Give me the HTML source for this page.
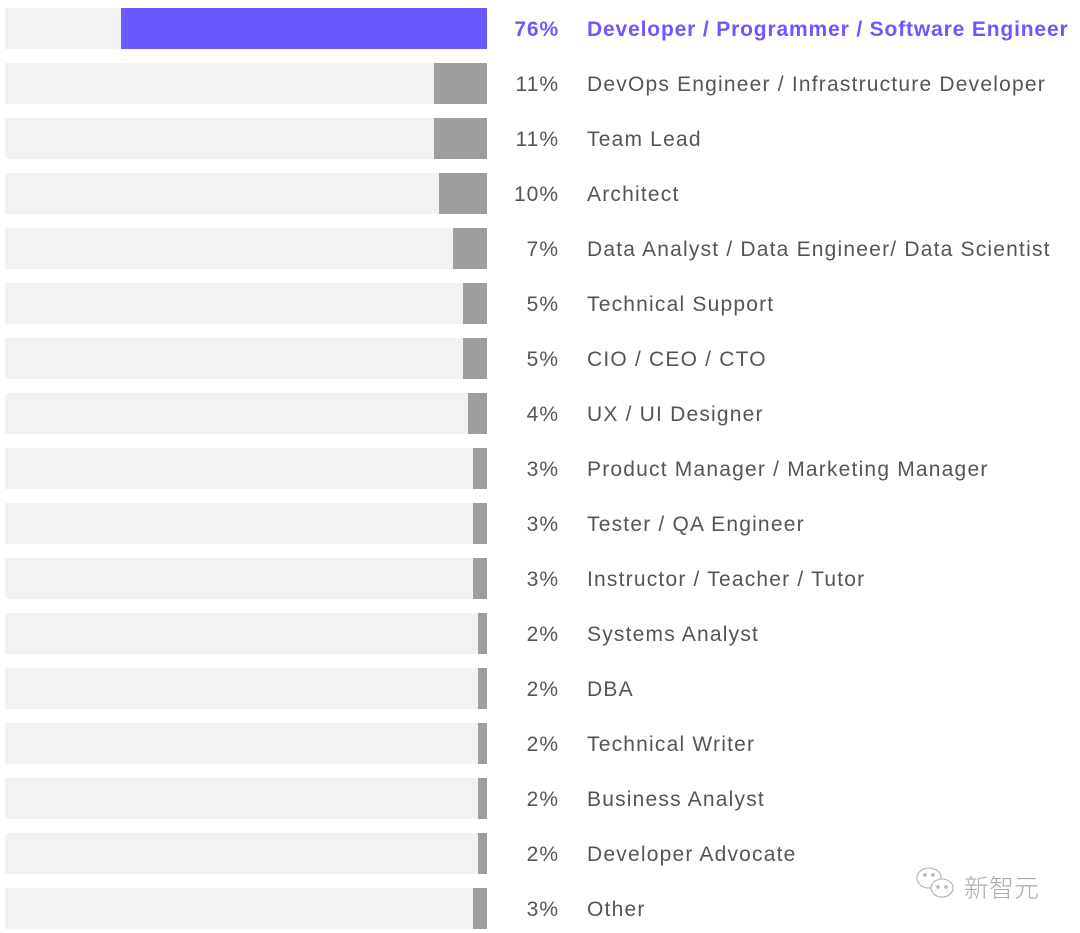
<!DOCTYPE html>
<html><head><meta charset="utf-8"><style>
body{margin:0;width:1080px;height:933px;background:#fff;position:relative;overflow:hidden;font-family:"Liberation Sans","Noto Sans CJK SC",sans-serif;}
.r{position:absolute;left:0;height:41px;width:1080px}
.bg{position:absolute;left:5px;width:482px;top:0;height:41px;background:#f2f2f2}
.f{position:absolute;right:593px;top:0;height:41px;background:#9e9e9e}
.p{position:absolute;right:521px;top:1px;line-height:41px;font-size:21px;color:#555;letter-spacing:1px}
.l{position:absolute;left:587px;top:1px;line-height:41px;font-size:21px;color:#555;white-space:nowrap;letter-spacing:1.2px}
.hi .f{background:#6b58ff}.hi .p,.hi .l{color:#6b58ff;font-weight:bold;letter-spacing:0.85px}
</style></head><body>
<div class="r hi" style="top:8px"><div class="bg"></div><div class="f" style="width:366px"></div><div class="p">76%</div><div class="l">Developer / Programmer / Software Engineer</div></div>
<div class="r" style="top:63px"><div class="bg"></div><div class="f" style="width:53px"></div><div class="p">11%</div><div class="l">DevOps Engineer / Infrastructure Developer</div></div>
<div class="r" style="top:118px"><div class="bg"></div><div class="f" style="width:53px"></div><div class="p">11%</div><div class="l">Team Lead</div></div>
<div class="r" style="top:173px"><div class="bg"></div><div class="f" style="width:48px"></div><div class="p">10%</div><div class="l">Architect</div></div>
<div class="r" style="top:228px"><div class="bg"></div><div class="f" style="width:34px"></div><div class="p">7%</div><div class="l">Data Analyst / Data Engineer/ Data Scientist</div></div>
<div class="r" style="top:283px"><div class="bg"></div><div class="f" style="width:24px"></div><div class="p">5%</div><div class="l">Technical Support</div></div>
<div class="r" style="top:338px"><div class="bg"></div><div class="f" style="width:24px"></div><div class="p">5%</div><div class="l">CIO / CEO / CTO</div></div>
<div class="r" style="top:393px"><div class="bg"></div><div class="f" style="width:19px"></div><div class="p">4%</div><div class="l">UX / UI Designer</div></div>
<div class="r" style="top:448px"><div class="bg"></div><div class="f" style="width:14px"></div><div class="p">3%</div><div class="l">Product Manager / Marketing Manager</div></div>
<div class="r" style="top:503px"><div class="bg"></div><div class="f" style="width:14px"></div><div class="p">3%</div><div class="l">Tester / QA Engineer</div></div>
<div class="r" style="top:558px"><div class="bg"></div><div class="f" style="width:14px"></div><div class="p">3%</div><div class="l">Instructor / Teacher / Tutor</div></div>
<div class="r" style="top:613px"><div class="bg"></div><div class="f" style="width:9px"></div><div class="p">2%</div><div class="l">Systems Analyst</div></div>
<div class="r" style="top:668px"><div class="bg"></div><div class="f" style="width:9px"></div><div class="p">2%</div><div class="l">DBA</div></div>
<div class="r" style="top:723px"><div class="bg"></div><div class="f" style="width:9px"></div><div class="p">2%</div><div class="l">Technical Writer</div></div>
<div class="r" style="top:778px"><div class="bg"></div><div class="f" style="width:9px"></div><div class="p">2%</div><div class="l">Business Analyst</div></div>
<div class="r" style="top:833px"><div class="bg"></div><div class="f" style="width:9px"></div><div class="p">2%</div><div class="l">Developer Advocate</div></div>
<div class="r" style="top:888px"><div class="bg"></div><div class="f" style="width:14px"></div><div class="p">3%</div><div class="l">Other</div></div>
<svg style="position:absolute;left:914px;top:864px" width="46" height="40" viewBox="0 0 46 40" fill="none" stroke="#bbb" stroke-width="1.3">
<ellipse cx="15" cy="14" rx="12" ry="10"/><ellipse cx="28" cy="24" rx="11" ry="9" fill="#fff"/>
<circle cx="11" cy="11" r="1.2" fill="#bbb"/><circle cx="19" cy="11" r="1.2" fill="#bbb"/><circle cx="24" cy="23" r="1.2" fill="#bbb"/><circle cx="32" cy="23" r="1.2" fill="#bbb"/>
</svg>
<div style="position:absolute;left:964px;top:869px;font-size:25px;color:#aaa;font-family:'Noto Sans CJK SC',sans-serif;font-weight:300">新智元</div>
</body></html>
